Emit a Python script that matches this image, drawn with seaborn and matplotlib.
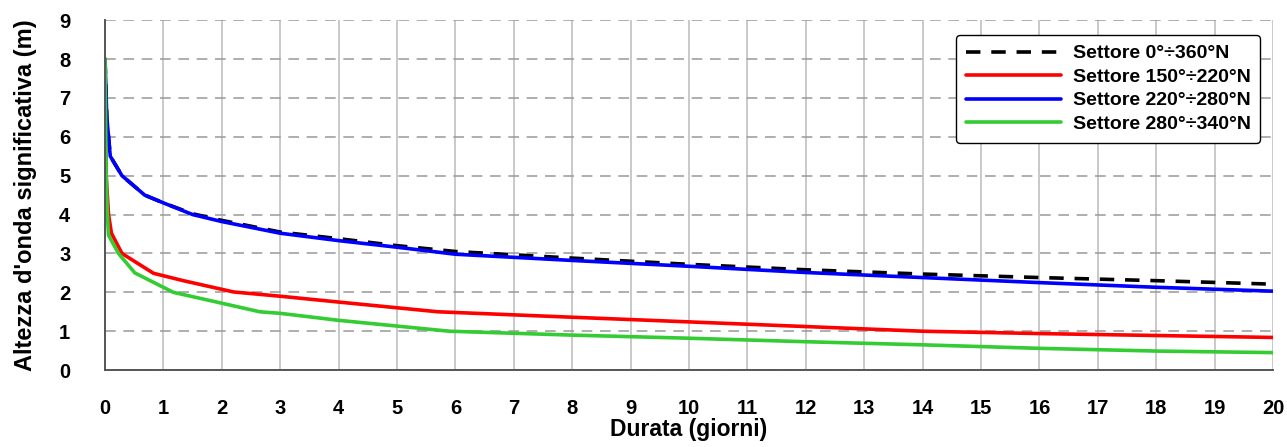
import numpy as np
import pandas as pd
import matplotlib
matplotlib.use("Agg")
import matplotlib.pyplot as plt
import seaborn as sns

# Data (durata in giorni, altezza in m)
labels = ["Settore 0°÷360°N", "Settore 150°÷220°N",
          "Settore 220°÷280°N", "Settore 280°÷340°N"]

x_all = [0.0, 0.03, 0.09, 0.29, 0.68, 1.0, 1.5, 2.0, 3.0, 4.0, 5.0, 6.0,
         8.0, 10.0, 12.0, 14.0, 16.0, 18.0, 20.0]
h_all = [8.0, 6.5, 5.5, 5.0, 4.5, 4.3, 4.02, 3.85, 3.55, 3.38, 3.2, 3.05,
         2.88, 2.72, 2.58, 2.47, 2.38, 2.30, 2.21]

x_150 = [0.0, 0.02, 0.06, 0.11, 0.29, 0.83, 1.34, 2.2, 3.0, 4.0, 5.7, 8.0,
         10.0, 12.0, 14.0, 16.0, 18.0, 20.0]
h_150 = [8.0, 5.0, 4.0, 3.52, 3.0, 2.49, 2.3, 2.01, 1.9, 1.75, 1.5, 1.36,
         1.24, 1.12, 1.0, 0.94, 0.89, 0.84]

x_220 = [0.0, 0.03, 0.09, 0.29, 0.68, 1.0, 1.5, 2.0, 3.0, 4.0, 5.0, 6.0,
         8.0, 10.0, 12.0, 14.0, 16.0, 18.0, 20.0]
h_220 = [8.0, 6.5, 5.5, 5.0, 4.5, 4.3, 4.0, 3.82, 3.52, 3.33, 3.16, 2.98,
         2.82, 2.67, 2.51, 2.38, 2.25, 2.13, 2.03]

x_280 = [0.0, 0.02, 0.04, 0.06, 0.23, 0.51, 1.17, 2.03, 2.65, 3.0, 4.0,
         5.9, 8.0, 10.0, 12.0, 14.0, 16.0, 18.0, 20.0]
h_280 = [8.0, 5.0, 4.0, 3.47, 3.0, 2.5, 2.0, 1.71, 1.5, 1.46, 1.28,
         1.0, 0.9, 0.82, 0.73, 0.65, 0.56, 0.49, 0.45]

series = [(labels[0], x_all, h_all, "black", (0, (4, 3))),
          (labels[1], x_150, h_150, "#ff0000", "-"),
          (labels[2], x_220, h_220, "#0000ff", "-"),
          (labels[3], x_280, h_280, "#33cc33", "-")]

sns.set_style("white")
plt.rcParams["font.family"] = ["Liberation Sans", "DejaVu Sans"]
plt.rcParams["font.weight"] = "bold"
plt.rcParams["text.color"] = "black"
plt.rcParams["axes.labelcolor"] = "black"
plt.rcParams["xtick.color"] = "black"
plt.rcParams["ytick.color"] = "black"

fig = plt.figure(figsize=(12.87, 4.47), dpi=100)
ax = fig.add_axes([0.0816, 0.172, 0.9076, 0.783])

for name, xs, hs, col, ls in series:
    df = pd.DataFrame({"durata": xs, "altezza": hs})
    sns.lineplot(data=df, x="durata", y="altezza", ax=ax, color=col,
                 linestyle=ls, linewidth=2.6, label=name, sort=False)

ax.set_xlim(0, 20)
ax.set_ylim(0, 9)
ax.set_xticks(np.arange(0, 21, 1))
ax.set_xticks(np.arange(0.5, 20, 1), minor=True)
ax.set_yticks(np.arange(0, 10, 1))
ax.set_yticks(np.arange(0.5, 9, 1), minor=True)
ax.tick_params(axis="both", which="major", labelsize=14.5, labelcolor="black")
ax.tick_params(axis="both", which="both", color="#333333", width=1.1, direction="out")
ax.tick_params(axis="x", which="major", length=12, pad=9)
ax.tick_params(axis="x", which="minor", length=6)
ax.tick_params(axis="y", which="major", length=17, pad=8)
ax.tick_params(axis="y", which="minor", length=8)
for t in ax.get_xticklabels() + ax.get_yticklabels():
    t.set_fontweight("bold")

ax.xaxis.grid(True, which="major", color="#bbbbbb", linestyle="-", linewidth=1.1)
ax.yaxis.grid(True, which="major", color="#999999", linestyle=(0, (7, 5)), linewidth=1.1)
ax.set_axisbelow(True)

for s in ["top", "right"]:
    ax.spines[s].set_visible(False)
for s in ["left", "bottom"]:
    ax.spines[s].set_color("#555555")
    ax.spines[s].set_linewidth(1.4)

ax.set_xlabel("Durata (giorni)", fontsize=16.5, fontweight="bold")
ax.set_ylabel("Altezza d'onda significativa (m)", fontsize=17, fontweight="bold")
ax.xaxis.set_label_coords(0.5, -0.136)
ax.yaxis.set_label_coords(-0.058, 0.5)

leg = ax.legend(loc="upper right", bbox_to_anchor=(0.989, 0.957), fontsize=14,
                handlelength=4.9, handletextpad=0.6, labelspacing=0.3,
                frameon=True, fancybox=True, borderpad=0.5, borderaxespad=0)
leg.get_frame().set_edgecolor("black")
leg.get_frame().set_linewidth(1.0)
leg.get_frame().set_alpha(1)
for t in leg.get_texts():
    t.set_fontweight("bold")

fig.savefig("out.png", dpi=100)
